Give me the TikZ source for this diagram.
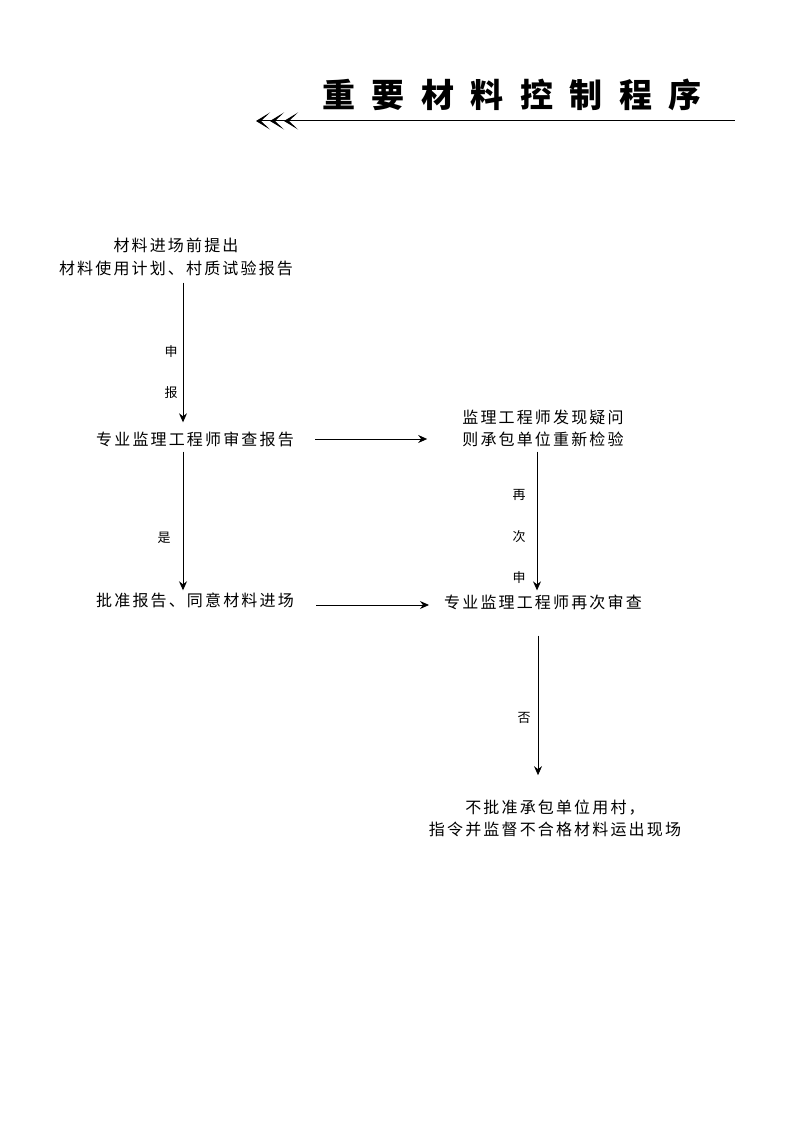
\documentclass[tikz,border=0pt]{standalone}
\usepackage{fontspec}
\usetikzlibrary{arrows.meta,calc}
\newfontfamily\cjk[LetterSpace=13.5]{Noto Sans CJK SC}
\newfontfamily\cjklab{Noto Sans CJK SC}
\newfontfamily\cjktitle[LetterSpace=50]{Noto Sans CJK SC}
\begin{document}
\begin{tikzpicture}[x=1pt,y=-1pt,
  txt/.style={inner sep=0pt,font=\cjk\fontsize{16}{16}\selectfont},
  lab/.style={inner sep=0pt,font=\cjklab\fontsize{13}{13}\selectfont},
  arr/.style={line width=0.9pt,-{Stealth[length=9pt,width=8pt,inset=3pt]}},
  titleline/.style={line width=1pt,{Stealth[length=14pt,width=17pt,inset=9pt]Stealth[length=14pt,width=17pt,inset=9pt]Stealth[length=14pt,width=17pt,inset=9pt]}-}]
\useasboundingbox[fill=white] (0,0) rectangle (794,1123);
% title
\node[inner sep=0pt,font=\cjktitle\bfseries\fontsize{33}{33}\selectfont] (T) at (512,95) {重要材料控制程序};
\coordinate (L1) at (256,121);
\coordinate (L2) at (735,121);
\draw[titleline] (L1) -- (L2);
% nodes
\node[txt] (A1) at (176,245) {材料进场前提出};
\node[txt] (A2) at (176,268) {材料使用计划、村质试验报告};
\node[txt] (B) at (195,439) {专业监理工程师审查报告};
\node[txt] (C1) at (543,417) {监理工程师发现疑问};
\node[txt] (C2) at (543,439) {则承包单位重新检验};
\node[txt] (D) at (195,600) {批准报告、同意材料进场};
\node[txt] (E) at (543,602) {专业监理工程师再次审查};
\node[txt] (F1) at (555,808) {不批准承包单位用村，};
\node[txt] (F2) at (555,829) {指令并监督不合格材料运出现场};
% connectors
\draw[arr] ($(A2.south)+(7,7)$) -- ($(B.north)+(-12,-9)$);
\draw[arr] ($(B.east)+(21,0)$) -- ($(C2.west)+(-35,0)$);
\draw[arr] ($(C2.south)+(-6,5)$) -- ($(E.north)+(-6,-4)$);
\draw[arr] ($(B.south)+(-12,5)$) -- ($(D.north)+(-12,-2)$);
\draw[arr] ($(D.east)+(22,5)$) -- ($(E.west)+(-15,3)$);
\draw[arr] ($(E.south)+(-5,26)$) -- ($(F1.north)+(-17,-25)$);
% labels
\node[lab] (l1) at (171,352) {申};
\node[lab] (l2) at (171,393) {报};
\node[lab] (l3) at (519,495) {再};
\node[lab] (l4) at (519,537) {次};
\node[lab] (l5) at (519,578) {申};
\node[lab] (l6) at (164,538) {是};
\node[lab] (l7) at (524,718) {否};
\end{tikzpicture}
\end{document}
